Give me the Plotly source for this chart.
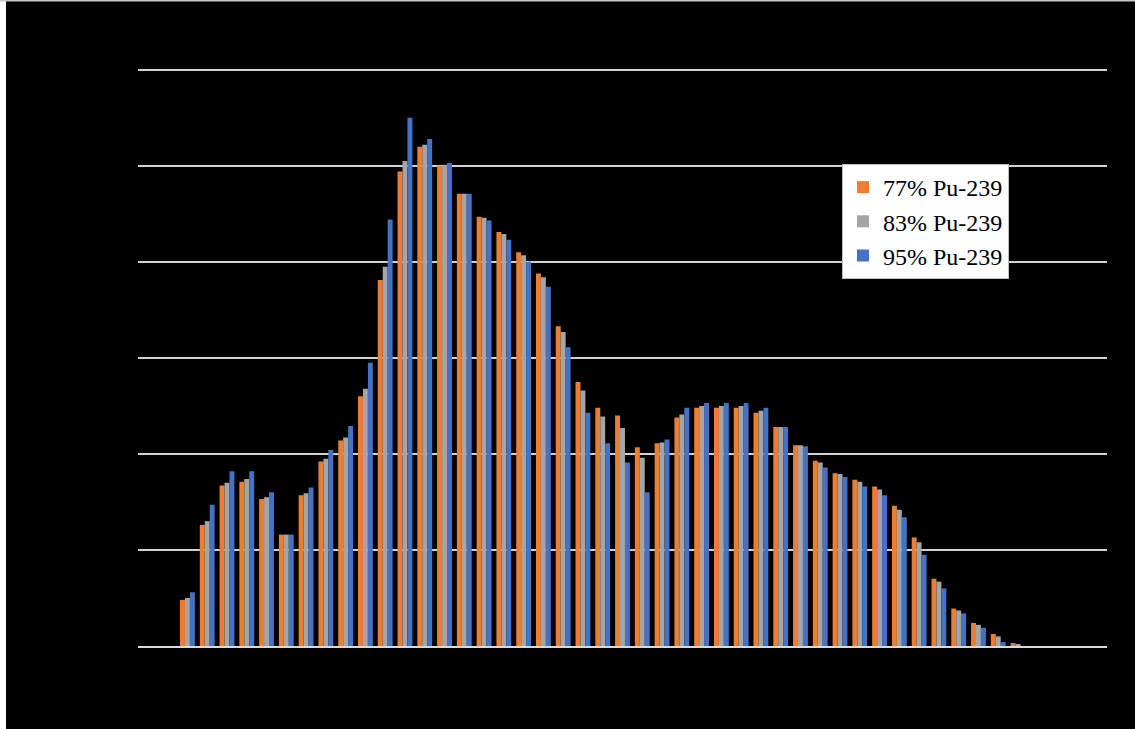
import plotly.graph_objects as go

categories = [str(i) for i in range(1, 50)]

pu77 = [0, 0, 0.48, 1.26, 1.67, 1.71, 1.53, 1.16, 1.57, 1.92,
        2.14, 2.60, 3.81, 4.94, 5.20, 5.00, 4.71, 4.47, 4.31, 4.10,
        3.88, 3.33, 2.75, 2.48, 2.40, 2.07, 2.11, 2.38, 2.48, 2.48,
        2.48, 2.43, 2.28, 2.09, 1.93, 1.80, 1.73, 1.66, 1.46, 1.13,
        0.70, 0.39, 0.24, 0.125, 0.03, 0, 0, 0, 0]

pu83 = [0, 0, 0.50, 1.30, 1.70, 1.74, 1.55, 1.16, 1.59, 1.95,
        2.17, 2.68, 3.95, 5.05, 5.22, 5.01, 4.71, 4.46, 4.29, 4.07,
        3.84, 3.27, 2.66, 2.39, 2.27, 1.96, 2.12, 2.41, 2.50, 2.50,
        2.50, 2.45, 2.28, 2.09, 1.91, 1.79, 1.71, 1.63, 1.42, 1.08,
        0.67, 0.37, 0.22, 0.10, 0.02, 0, 0, 0, 0]

pu95 = [0, 0, 0.56, 1.47, 1.82, 1.82, 1.60, 1.16, 1.65, 2.04,
        2.29, 2.95, 4.44, 5.50, 5.28, 5.03, 4.71, 4.43, 4.23, 4.00,
        3.74, 3.11, 2.43, 2.11, 1.91, 1.60, 2.15, 2.48, 2.53, 2.53,
        2.53, 2.48, 2.28, 2.08, 1.86, 1.76, 1.66, 1.57, 1.34, 0.95,
        0.60, 0.34, 0.19, 0.04, 0, 0, 0, 0, 0]

series = [
    ("77% Pu-239", pu77, "#ED7D31"),
    ("83% Pu-239", pu83, "#A5A5A5"),
    ("95% Pu-239", pu95, "#4472C4"),
]

fig = go.Figure()
for name, vals, color in series:
    fig.add_trace(go.Bar(x=categories, y=vals, name=name,
                         marker=dict(color=color, line=dict(width=0))))

W, H = 1135, 729
L, R, T, B = 138, 28, 65, 83
pw, ph = W - L - R, H - T - B
YMAX = 6.05

def px_x(p):
    return (p - L) / pw

def px_y(p):
    return (H - B - p) / ph

fig.update_layout(
    width=W, height=H,
    margin=dict(l=L, r=R, t=T, b=B, pad=0),
    paper_bgcolor="black",
    plot_bgcolor="black",
    barmode="group",
    bargap=0.25,
    bargroupgap=0,
    showlegend=True,
    legend=dict(
        x=px_x(842), y=px_y(164), xanchor="left", yanchor="top",
        bgcolor="white", bordercolor="#BFBFBF", borderwidth=1,
        font=dict(family="Liberation Serif", size=24, color="black"),
        itemsizing="constant",
    ),
    xaxis=dict(
        type="category", showticklabels=False, showgrid=False,
        ticks="", showline=True, linecolor="#D9D9D9", linewidth=1.5,
        zeroline=False,
    ),
    yaxis=dict(
        range=[0, YMAX], dtick=1, showticklabels=False,
        showgrid=True, gridcolor="#D0D0D0", gridwidth=1.5,
        zeroline=False, showline=False, ticks="",
    ),
    shapes=[
        dict(type="rect", xref="paper", yref="paper",
             x0=px_x(0), x1=px_x(6), y0=px_y(H), y1=px_y(0),
             fillcolor="white", line=dict(width=0), layer="above"),
        dict(type="rect", xref="paper", yref="paper",
             x0=px_x(0), x1=px_x(W), y0=px_y(1.5), y1=px_y(0),
             fillcolor="#C8C8C8", line=dict(width=0), layer="above"),
    ],
)

fig.write_html(
    "out.html",
    config={"displayModeBar": False},
    post_script="document.body.style.margin='0px';document.body.style.overflow='hidden';",
)
